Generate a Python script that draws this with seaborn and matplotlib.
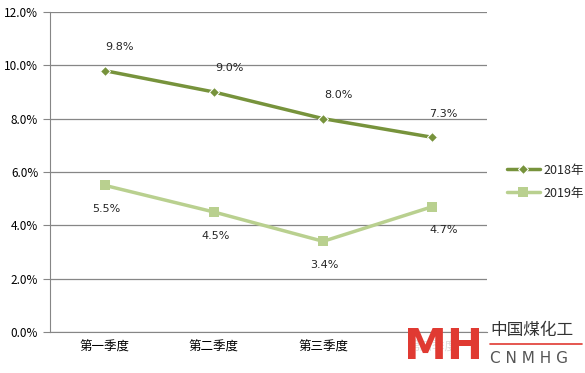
import pandas as pd
import seaborn as sns
import matplotlib.pyplot as plt
from matplotlib.ticker import PercentFormatter

quarters = ["第一季度", "第二季度", "第三季度", "第四季度"]
v2018 = [9.8, 9.0, 8.0, 7.3]
v2019 = [5.5, 4.5, 3.4, 4.7]

sns.set_style("white")
plt.rcParams['font.family'] = ['Noto Sans CJK SC', 'DejaVu Sans']

df = pd.DataFrame({"quarter": quarters * 2,
                   "value": v2018 + v2019,
                   "year": ["2018年"] * 4 + ["2019年"] * 4})

fig = plt.figure(figsize=(5.85, 3.73), dpi=100)
ax = fig.add_axes([0.0855, 0.1099, 0.747, 0.858])

c18 = "#77933C"
c19 = "#B9D08F"
sns.lineplot(data=df[df.year == "2018年"], x="quarter", y="value", color=c18,
             marker="D", markersize=5, linewidth=2.5, label="2018年", ax=ax)
sns.lineplot(data=df[df.year == "2019年"], x="quarter", y="value", color=c19,
             marker="s", markersize=7, linewidth=2.5, markeredgewidth=0,
             label="2019年", ax=ax)

ax.set_xlim(-0.5, 3.5)
ax.set_ylim(0, 12)
ax.set_yticks(range(0, 13, 2))
ax.yaxis.set_major_formatter(PercentFormatter(decimals=1))
ax.grid(axis="y", color="#868686", linewidth=0.9)
ax.set_axisbelow(True)
for s in ["top", "right"]:
    ax.spines[s].set_visible(False)
ax.spines["left"].set_color("#868686")
ax.spines["bottom"].set_color("#868686")
ax.set_xticks([-0.5, 0.5, 1.5, 2.5, 3.5], minor=False)
ax.set_xticklabels([])
ax.set_xticks(range(4), minor=True)
ax.set_xticklabels(quarters, minor=True)
ax.tick_params(axis="x", which="major", length=5, color="#868686", direction="out")
ax.tick_params(axis="x", which="minor", length=0, labelsize=9, pad=6, labelcolor="black")
ax.tick_params(axis="y", length=5, color="#868686", labelsize=8.5, left=True, labelcolor="black")
ax.get_xticklabels(minor=True)[3].set_color("#dddddd")
ax.set_xlabel("")
ax.set_ylabel("")

for i, v in enumerate(v2018):
    dx = 8 if i == 3 else 11
    ax.annotate(f"{v:.1f}%", (i, v), xytext=(dx, 17), textcoords="offset points",
                ha="center", va="center", fontsize=8, family="DejaVu Sans")
for i, v in enumerate(v2019):
    dx = 8 if i == 3 else 1
    ax.annotate(f"{v:.1f}%", (i, v), xytext=(dx, -17), textcoords="offset points",
                ha="center", va="center", fontsize=8, family="DejaVu Sans")

ax.legend(loc="center left", bbox_to_anchor=(1.02, 0.47), frameon=False,
          fontsize=9, handlelength=2.6, handletextpad=0.3, labelspacing=0.8)

# watermark
fig.text(0.69, 0.07, "MH", color="#E03A32", fontsize=31, fontweight="bold",
         ha="left", va="center", family="DejaVu Sans")
fig.text(0.838, 0.115, "中国煤化工", color="#333333", fontsize=12, ha="left", va="center")
fig.add_artist(plt.Line2D([0.838, 0.995], [0.078, 0.078], color="#E03A32", linewidth=1.2))
fig.text(0.838, 0.04, "C N M H G", color="#555555", fontsize=11, ha="left", va="center",
         family="DejaVu Sans")

fig.savefig("out.png", dpi=100)
